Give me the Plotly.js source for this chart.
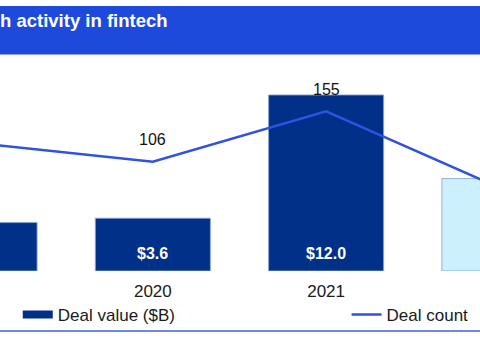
<!DOCTYPE html>
<html>
<head>
<meta charset="utf-8">
<script src="https://cdn.plot.ly/plotly-3.0.1.min.js"></script>
<style>
  html, body { margin: 0; padding: 0; background: #ffffff; overflow: hidden; }
  #chart { width: 480px; height: 363px; }
</style>
</head>
<body>
<div id="chart"></div>
<script>
// ---- data ----
const years = ['2019', '2020', '2021', '2022'];
const dealValue = [3.3, 3.6, 12.0, 6.3];          // $B
const dealValueLabels = ['$3.3', '$3.6', '$12.0', '$6.3'];
const dealCount = [124, 106, 155, 81];
const barColors = ['#003087', '#003087', '#003087', '#CCF1FC'];
const seriesNames = ['Deal value ($B)', 'Deal count'];
const titleText = 'h activity in fintech';

const FONT = '"Liberation Sans", Arial, sans-serif';
const NAVY = '#003087';
const LINE = '#2F52E0';

const traces = [
  { // legend swatch for the bar series
    type: 'scatter', mode: 'lines', x: [null], y: [null],
    name: seriesNames[0], legendgroup: 'val', legend: 'legend',
    line: { color: NAVY, width: 8 }, hoverinfo: 'skip'
  },
  {
    type: 'bar', x: years, y: dealValue, name: seriesNames[0],
    legendgroup: 'val', showlegend: false,
    marker: { color: barColors, line: { color: 'rgba(140,165,215,0.9)', width: 1 } },
    hoverinfo: 'skip'
  },
  {
    type: 'scatter', mode: 'lines', x: years, y: dealCount, yaxis: 'y2',
    name: seriesNames[1], legend: 'legend2',
    line: { color: LINE, width: 2.5 }, hoverinfo: 'skip'
  }
];

const annotations = [];
years.forEach((yr, i) => {
  annotations.push({
    x: i, y: 0, xref: 'x', yref: 'y', yanchor: 'middle', yshift: 18,
    text: dealValueLabels[i], showarrow: false,
    font: { family: FONT, size: 16, color: '#ffffff', weight: 'bold' }
  });
  annotations.push({
    x: i, y: dealCount[i], xref: 'x', yref: 'y2', yanchor: 'middle', yshift: 22,
    text: String(dealCount[i]), showarrow: false,
    font: { family: FONT, size: 16, color: '#111111' }
  });
});

const legendBase = {
  orientation: 'h', xanchor: 'left', y: -0.203, yanchor: 'middle',
  font: { family: FONT, size: 17, color: '#1a1a1a' },
  bgcolor: 'rgba(0,0,0,0)', borderwidth: 0
};

const layout = {
  width: 480, height: 363,
  margin: { l: 0, r: 0, t: 54, b: 92, pad: 0 },
  paper_bgcolor: '#ffffff', plot_bgcolor: '#ffffff',
  font: { family: FONT, size: 17, color: '#1a1a1a' },
  showlegend: true,
  title: {
    text: titleText, x: 0, xref: 'container', xanchor: 'left',
    y: 1 - 20.5 / 363, yref: 'container', yanchor: 'middle',
    font: { family: FONT, size: 18.5, color: '#ffffff', weight: 'bold' }
  },
  bargap: 0.336,
  xaxis: {
    type: 'category', range: [0.118, 2.888], showgrid: false, zeroline: false,
    showline: false, ticks: 'outside', ticklen: 5, tickcolor: 'rgba(0,0,0,0)',
    tickfont: { family: FONT, size: 17, color: '#1a1a1a' }, fixedrange: true
  },
  yaxis: {
    range: [0, 217 / 14.67], visible: false, showgrid: false, zeroline: false, fixedrange: true
  },
  yaxis2: {
    range: [0, 217 / 1.03], overlaying: 'y', side: 'right', visible: false,
    showgrid: false, zeroline: false, fixedrange: true
  },
  legend: Object.assign({}, legendBase, { x: 0.037 }),
  legend2: Object.assign({}, legendBase, { x: 0.722 }),
  shapes: [
    { type: 'rect', xref: 'paper', yref: 'paper', x0: 0, x1: 1,
      y0: 1, y1: 1 + 48 / 217, fillcolor: '#1E4ADC', line: { width: 0 }, layer: 'below' },
    { type: 'line', xref: 'paper', yref: 'paper', x0: 0, x1: 1,
      y0: 1 - 0.5 / 217, y1: 1 - 0.5 / 217, line: { color: '#8FA3EC', width: 1.2 } },
    { type: 'line', xref: 'paper', yref: 'paper', x0: 0, x1: 1,
      y0: -60 / 217, y1: -60 / 217, line: { color: '#6A88E8', width: 2 } }
  ],
  annotations: annotations
};

Plotly.newPlot('chart', traces, layout, { staticPlot: true, displayModeBar: false });
</script>
</body>
</html>
